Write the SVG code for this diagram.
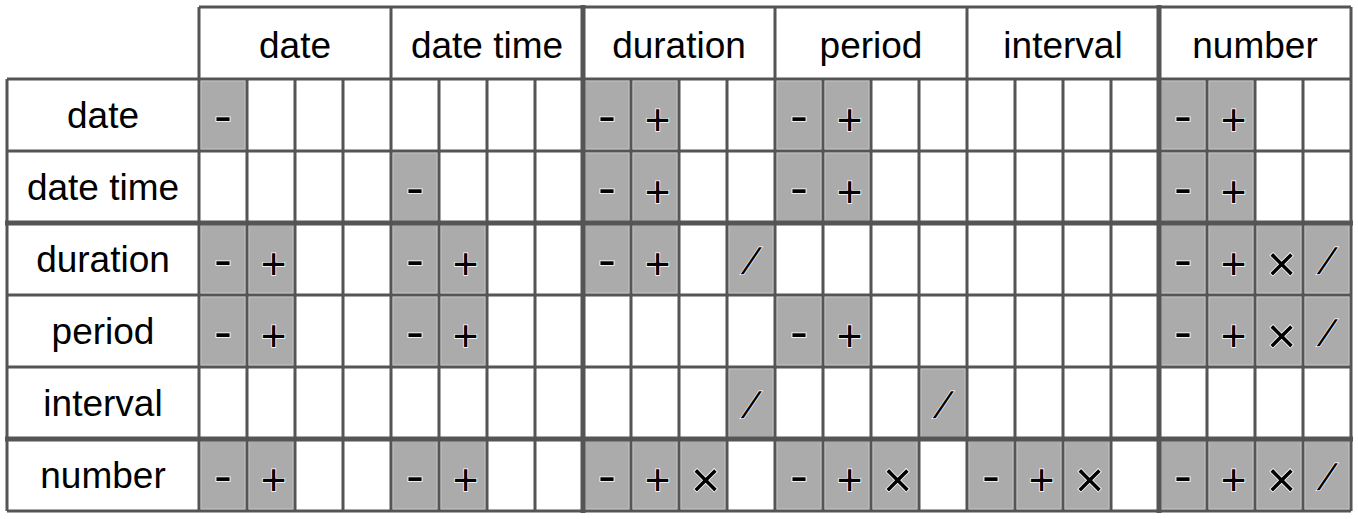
<svg xmlns="http://www.w3.org/2000/svg" width="1358" height="519" viewBox="0 0 1358 519">
<style>
.lbl{font-family:"Liberation Sans",Arial,sans-serif;font-size:37px;fill:#000;text-anchor:middle}
.sh{fill:#ababab;stroke:#c2c2c2;stroke-width:1}
.op{font-family:"Liberation Sans",Arial,sans-serif;fill:#000;stroke:#fff;stroke-width:1.5;paint-order:stroke fill;text-anchor:middle}
.mi{font-size:48px}
.pl{font-size:44px}
.mu{font-size:50px}
.sl{font-size:37px}
.thin{stroke:#555;stroke-width:3;fill:none}
.thick{stroke:#555;stroke-width:5;fill:none}
</style>
<rect width="1358" height="519" fill="#fff"/>

<g id="shaded-cells">
<rect class="sh" x="201" y="81" width="44" height="68"/>
<rect class="sh" x="585" y="81" width="44" height="68"/>
<rect class="sh" x="633" y="81" width="44" height="68"/>
<rect class="sh" x="777" y="81" width="44" height="68"/>
<rect class="sh" x="825" y="81" width="44" height="68"/>
<rect class="sh" x="1161" y="81" width="44" height="68"/>
<rect class="sh" x="1209" y="81" width="44" height="68"/>
<rect class="sh" x="393" y="153" width="44" height="68"/>
<rect class="sh" x="585" y="153" width="44" height="68"/>
<rect class="sh" x="633" y="153" width="44" height="68"/>
<rect class="sh" x="777" y="153" width="44" height="68"/>
<rect class="sh" x="825" y="153" width="44" height="68"/>
<rect class="sh" x="1161" y="153" width="44" height="68"/>
<rect class="sh" x="1209" y="153" width="44" height="68"/>
<rect class="sh" x="201" y="225" width="44" height="68"/>
<rect class="sh" x="249" y="225" width="44" height="68"/>
<rect class="sh" x="393" y="225" width="44" height="68"/>
<rect class="sh" x="441" y="225" width="44" height="68"/>
<rect class="sh" x="585" y="225" width="44" height="68"/>
<rect class="sh" x="633" y="225" width="44" height="68"/>
<rect class="sh" x="729" y="225" width="44" height="68"/>
<rect class="sh" x="1161" y="225" width="44" height="68"/>
<rect class="sh" x="1209" y="225" width="44" height="68"/>
<rect class="sh" x="1257" y="225" width="44" height="68"/>
<rect class="sh" x="1305" y="225" width="44" height="68"/>
<rect class="sh" x="201" y="297" width="44" height="68"/>
<rect class="sh" x="249" y="297" width="44" height="68"/>
<rect class="sh" x="393" y="297" width="44" height="68"/>
<rect class="sh" x="441" y="297" width="44" height="68"/>
<rect class="sh" x="777" y="297" width="44" height="68"/>
<rect class="sh" x="825" y="297" width="44" height="68"/>
<rect class="sh" x="1161" y="297" width="44" height="68"/>
<rect class="sh" x="1209" y="297" width="44" height="68"/>
<rect class="sh" x="1257" y="297" width="44" height="68"/>
<rect class="sh" x="1305" y="297" width="44" height="68"/>
<rect class="sh" x="729" y="369" width="44" height="68"/>
<rect class="sh" x="921" y="369" width="44" height="68"/>
<rect class="sh" x="201" y="441" width="44" height="68"/>
<rect class="sh" x="249" y="441" width="44" height="68"/>
<rect class="sh" x="393" y="441" width="44" height="68"/>
<rect class="sh" x="441" y="441" width="44" height="68"/>
<rect class="sh" x="585" y="441" width="44" height="68"/>
<rect class="sh" x="633" y="441" width="44" height="68"/>
<rect class="sh" x="681" y="441" width="44" height="68"/>
<rect class="sh" x="777" y="441" width="44" height="68"/>
<rect class="sh" x="825" y="441" width="44" height="68"/>
<rect class="sh" x="873" y="441" width="44" height="68"/>
<rect class="sh" x="969" y="441" width="44" height="68"/>
<rect class="sh" x="1017" y="441" width="44" height="68"/>
<rect class="sh" x="1065" y="441" width="44" height="68"/>
<rect class="sh" x="1161" y="441" width="44" height="68"/>
<rect class="sh" x="1209" y="441" width="44" height="68"/>
<rect class="sh" x="1257" y="441" width="44" height="68"/>
<rect class="sh" x="1305" y="441" width="44" height="68"/>
</g>

<g id="grid-lines">
<line class="thin" x1="199" y1="7" x2="1351" y2="7"/>
<line class="thin" x1="7" y1="79" x2="1351" y2="79"/>
<line class="thin" x1="7" y1="151" x2="1351" y2="151"/>
<line class="thick" x1="5" y1="223" x2="1353" y2="223"/>
<line class="thin" x1="7" y1="295" x2="1351" y2="295"/>
<line class="thin" x1="7" y1="367" x2="1351" y2="367"/>
<line class="thick" x1="5" y1="439" x2="1353" y2="439"/>
<line class="thin" x1="7" y1="511" x2="1351" y2="511"/>
<line class="thin" x1="7" y1="79" x2="7" y2="511"/>
<line class="thin" x1="199" y1="7" x2="199" y2="511"/>
<line class="thin" x1="391" y1="7" x2="391" y2="511"/>
<line class="thick" x1="583" y1="5" x2="583" y2="513"/>
<line class="thin" x1="775" y1="7" x2="775" y2="511"/>
<line class="thin" x1="967" y1="7" x2="967" y2="511"/>
<line class="thick" x1="1159" y1="5" x2="1159" y2="513"/>
<line class="thin" x1="1351" y1="7" x2="1351" y2="511"/>
<path class="thin" d="M247 79V511M295 79V511M343 79V511M439 79V511M487 79V511M535 79V511M631 79V511M679 79V511M727 79V511M823 79V511M871 79V511M919 79V511M1015 79V511M1063 79V511M1111 79V511M1207 79V511M1255 79V511M1303 79V511"/>
</g>

<g id="column-headers">
<text class="lbl" x="295" y="57.5">date</text>
<text class="lbl" x="487" y="57.5">date time</text>
<text class="lbl" x="679" y="57.5">duration</text>
<text class="lbl" x="871" y="57.5">period</text>
<text class="lbl" x="1063" y="57.5">interval</text>
<text class="lbl" x="1255" y="57.5">number</text>
</g>

<g id="row-headers">
<text class="lbl" x="103" y="128">date</text>
<text class="lbl" x="103" y="200">date time</text>
<text class="lbl" x="103" y="272">duration</text>
<text class="lbl" x="103" y="344">period</text>
<text class="lbl" x="103" y="416">interval</text>
<text class="lbl" x="103" y="488">number</text>
</g>

<g id="operators">
<!-- row 0 rc=115 -->
<text class="op mi" x="223" y="131.6" textLength="18" lengthAdjust="spacingAndGlyphs">-</text>
<text class="op mi" x="607" y="131.6" textLength="18" lengthAdjust="spacingAndGlyphs">-</text>
<text class="op pl" x="657.5" y="134.5">+</text>
<text class="op mi" x="799" y="131.6" textLength="18" lengthAdjust="spacingAndGlyphs">-</text>
<text class="op pl" x="849.5" y="134.5">+</text>
<text class="op mi" x="1183" y="131.6" textLength="18" lengthAdjust="spacingAndGlyphs">-</text>
<text class="op pl" x="1233.5" y="134.5">+</text>
<!-- row 1 rc=187 -->
<text class="op mi" x="415" y="203.6" textLength="18" lengthAdjust="spacingAndGlyphs">-</text>
<text class="op mi" x="607" y="203.6" textLength="18" lengthAdjust="spacingAndGlyphs">-</text>
<text class="op pl" x="657.5" y="206.5">+</text>
<text class="op mi" x="799" y="203.6" textLength="18" lengthAdjust="spacingAndGlyphs">-</text>
<text class="op pl" x="849.5" y="206.5">+</text>
<text class="op mi" x="1183" y="203.6" textLength="18" lengthAdjust="spacingAndGlyphs">-</text>
<text class="op pl" x="1233.5" y="206.5">+</text>
<!-- row 2 rc=259 -->
<text class="op mi" x="223" y="275.6" textLength="18" lengthAdjust="spacingAndGlyphs">-</text>
<text class="op pl" x="273.5" y="278.5">+</text>
<text class="op mi" x="415" y="275.6" textLength="18" lengthAdjust="spacingAndGlyphs">-</text>
<text class="op pl" x="465.5" y="278.5">+</text>
<text class="op mi" x="607" y="275.6" textLength="18" lengthAdjust="spacingAndGlyphs">-</text>
<text class="op pl" x="657.5" y="278.5">+</text>
<text class="op sl" transform="translate(746,273.5) skewX(-22)">/</text>
<text class="op mi" x="1183" y="275.6" textLength="18" lengthAdjust="spacingAndGlyphs">-</text>
<text class="op pl" x="1233.5" y="278.5">+</text>
<text class="op mu" x="1281.5" y="281">×</text>
<text class="op sl" transform="translate(1322,273.5) skewX(-22)">/</text>
<!-- row 3 rc=331 -->
<text class="op mi" x="223" y="347.6" textLength="18" lengthAdjust="spacingAndGlyphs">-</text>
<text class="op pl" x="273.5" y="350.5">+</text>
<text class="op mi" x="415" y="347.6" textLength="18" lengthAdjust="spacingAndGlyphs">-</text>
<text class="op pl" x="465.5" y="350.5">+</text>
<text class="op mi" x="799" y="347.6" textLength="18" lengthAdjust="spacingAndGlyphs">-</text>
<text class="op pl" x="849.5" y="350.5">+</text>
<text class="op mi" x="1183" y="347.6" textLength="18" lengthAdjust="spacingAndGlyphs">-</text>
<text class="op pl" x="1233.5" y="350.5">+</text>
<text class="op mu" x="1281.5" y="353">×</text>
<text class="op sl" transform="translate(1322,345.5) skewX(-22)">/</text>
<!-- row 4 rc=403 -->
<text class="op sl" transform="translate(746,417.5) skewX(-22)">/</text>
<text class="op sl" transform="translate(938,417.5) skewX(-22)">/</text>
<!-- row 5 rc=475 -->
<text class="op mi" x="223" y="491.6" textLength="18" lengthAdjust="spacingAndGlyphs">-</text>
<text class="op pl" x="273.5" y="494.5">+</text>
<text class="op mi" x="415" y="491.6" textLength="18" lengthAdjust="spacingAndGlyphs">-</text>
<text class="op pl" x="465.5" y="494.5">+</text>
<text class="op mi" x="607" y="491.6" textLength="18" lengthAdjust="spacingAndGlyphs">-</text>
<text class="op pl" x="657.5" y="494.5">+</text>
<text class="op mu" x="705.5" y="497">×</text>
<text class="op mi" x="799" y="491.6" textLength="18" lengthAdjust="spacingAndGlyphs">-</text>
<text class="op pl" x="849.5" y="494.5">+</text>
<text class="op mu" x="897.5" y="497">×</text>
<text class="op mi" x="991" y="491.6" textLength="18" lengthAdjust="spacingAndGlyphs">-</text>
<text class="op pl" x="1041.5" y="494.5">+</text>
<text class="op mu" x="1089.5" y="497">×</text>
<text class="op mi" x="1183" y="491.6" textLength="18" lengthAdjust="spacingAndGlyphs">-</text>
<text class="op pl" x="1233.5" y="494.5">+</text>
<text class="op mu" x="1281.5" y="497">×</text>
<text class="op sl" transform="translate(1322,489.5) skewX(-22)">/</text>
</g>
</svg>
